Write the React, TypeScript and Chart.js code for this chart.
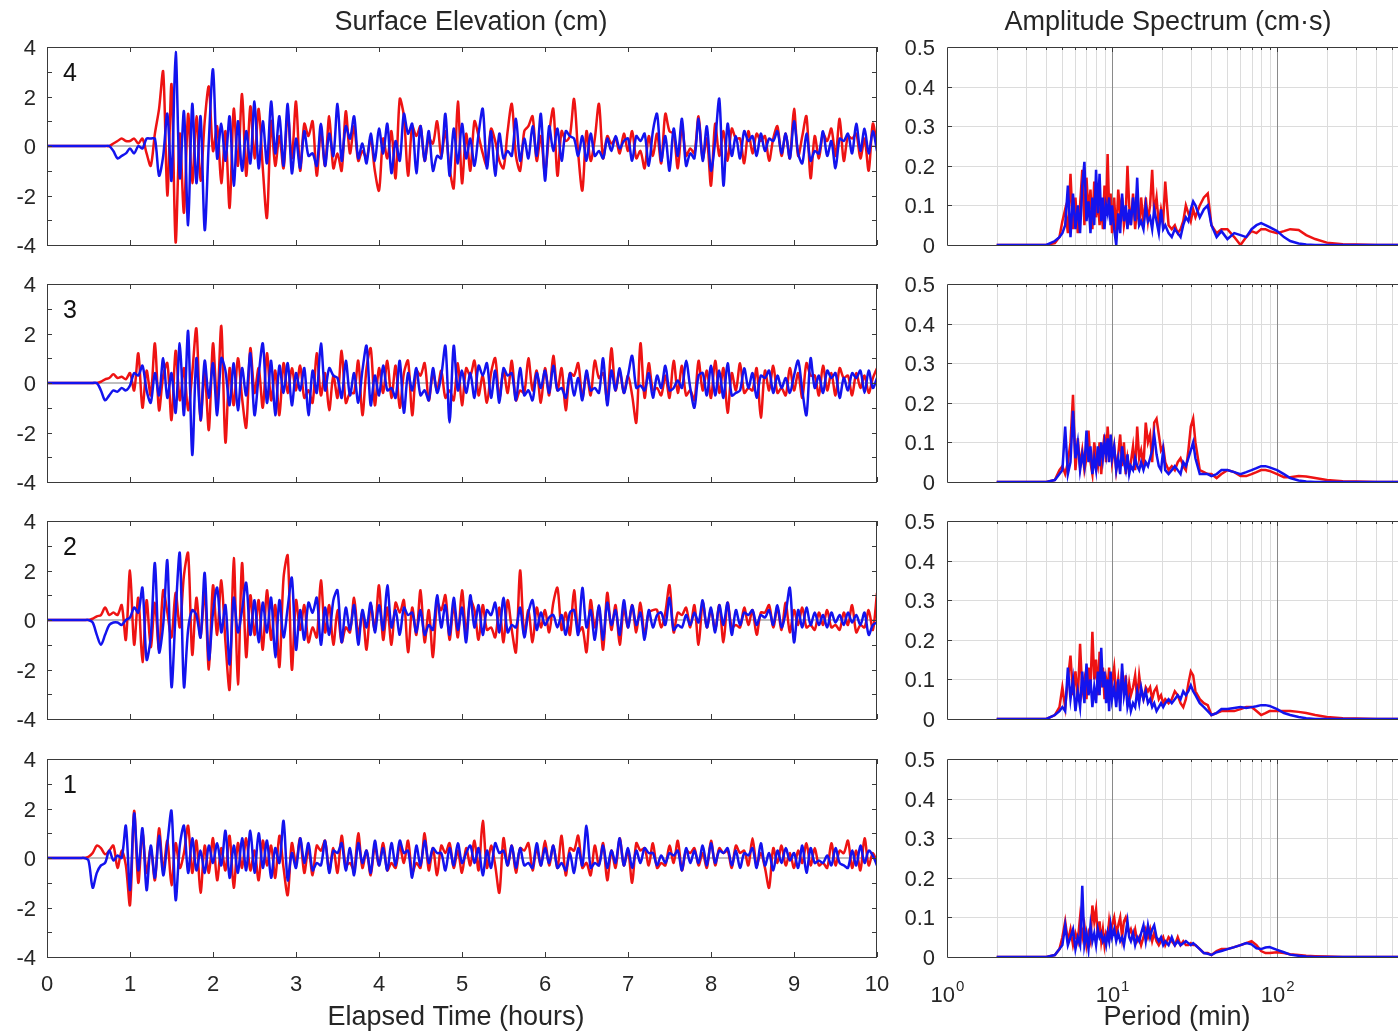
import React, { useEffect, useRef } from "react";
import { Chart, registerables } from "chart.js";

Chart.register(...registerables);

// ---------------- data ----------------
const SAMPLE_STEP_HOURS = 0.05;

// Surface elevation (cm), gauge 4 (top panel)
const RED_4 = [
  0,0,0,0,0,0,0,0,0,0,0,0,0,0,0,0,0.1,0.2,0.3,0.2,
  0.2,0.3,0.1,0.3,-0.3,-0.8,0.5,1.5,3.0,-2.0,2.5,-3.9,0.5,-2.7,1.3,-1.5,1.2,-1.4,1.0,2.4,
  -0.2,0.8,-1.5,0.6,-2.5,1.5,-0.8,2.1,-1.2,1.6,-0.5,1.5,-0.9,-2.9,1.0,-0.8,0.4,-0.9,1.3,-0.5,
  1.8,-1.0,0.9,0.4,1.0,-1.2,0.6,-0.8,1.2,-0.9,-0.3,-1.0,1.4,-0.3,0.8,-0.6,-0.2,-0.5,0.3,-1.0,
  -1.8,0.3,-0.5,0.6,-1.3,1.9,1.2,-1.2,0.8,0.4,0.8,-0.6,0.3,0.1,1.0,-0.4,0.6,-0.9,-1.7,1.8,
  -1.5,0.5,-1.0,1.0,0.4,-0.3,-0.8,0.7,0.2,-0.6,-0.9,0.6,1.7,-0.4,-1.0,0.6,0.8,1.2,-0.6,0.4,
  -1.1,0.5,1.5,-1.2,0.6,0.2,0.4,1.9,-0.3,-1.8,0.6,-0.6,0.3,1.7,-0.5,0.4,0.1,0.3,-0.3,0.5,
  -0.2,0.6,-0.5,-0.2,-0.9,0.4,-0.4,0.5,-0.7,1.3,0.6,0.5,-0.9,0.8,-0.4,-0.1,-0.3,1.2,-0.5,0.3,
  -1.6,0.9,-0.4,0.6,-0.6,0.7,0.3,0.3,-0.7,0.6,-0.3,0.5,0.2,0.4,-0.6,0.3,0.8,-0.4,0.5,-0.5,
  1.5,-0.4,0.4,1.2,-1.3,0.4,-0.5,0.5,0.2,0.7,-0.4,1.1,-0.6,0.4,0.3,0.5,-0.5,0.3,-1.0,0.9,
  0.0,
];
const BLUE_4 = [
  0,0,0,0,0,0,0,0,0,0,0,0,0,0,0,0,-0.2,-0.5,-0.4,-0.3,
  -0.1,-0.3,0,-0.1,0.3,0.3,0.3,-1.2,-0.4,1.3,-1.4,3.8,-1.3,1.4,-3.2,1.7,-1.5,1.2,-3.4,0.2,
  3.1,-0.5,0.9,-0.6,1.2,-1.6,1.0,-1.0,0.6,-0.7,1.8,-0.9,1.0,-0.7,1.8,-0.3,1.2,-0.8,1.7,-1.1,
  0.3,-0.9,0.6,-0.4,-0.3,-0.8,0.9,-0.8,0.5,-0.4,1.7,-0.6,0.8,0.3,1.2,-0.5,0.1,-0.7,0.5,-0.6,
  0.7,-0.3,0.9,-1.1,0.2,-0.6,1.3,0.5,0.9,-1.1,0.8,-0.6,0.6,-1.0,-0.4,-0.5,1.3,-1.2,0.7,-0.7,
  0.9,-0.5,0.3,-0.8,0.5,1.5,-0.9,0.6,-1.2,0.5,-0.5,-0.2,-0.4,1.1,-0.6,0.3,-0.5,0.8,-0.4,1.3,
  -1.4,0.8,-0.2,0.7,-0.6,0.6,0.4,0.3,-0.4,0.4,-0.6,0.5,-0.4,-0.2,-0.5,0.3,-0.2,0.4,-0.1,0.2,
  0.3,-0.6,0.4,0.2,0.5,-0.8,0.6,1.3,-0.6,0.4,-1.0,0.7,-0.4,1.1,-0.8,-0.3,-0.5,1.1,-0.6,0.8,
  -1.0,0.2,1.9,-1.6,0.9,-0.4,0.4,-0.5,0.6,0.2,0.4,-0.4,0.5,-0.2,0.3,0.2,0.6,-0.3,0.5,-0.5,
  1.0,-0.3,-0.7,0.5,-0.6,-0.2,-0.3,0.6,-0.4,0.2,-0.9,0.3,0.2,0.5,-0.3,0.9,-0.2,0.7,-0.3,0.6,
  -0.2,
];

// gauge 3
const RED_3 = [
  0,0,0,0,0,0,0,0,0,0,0,0,0,0.05,0.15,0.2,0.35,0.2,0.25,0.15,
  0.4,-0.3,1.2,-1.0,0.5,-0.5,1.6,-1.1,0.3,0.8,-1.5,1.3,-0.7,0.6,-1.1,0.4,2.2,-1.5,0.4,-1.9,
  1.6,-0.8,2.3,-2.4,0.6,-0.9,1.0,-0.6,-1.8,1.4,-0.4,0.6,-1.0,1.2,-0.7,0.5,-1.3,0.8,-0.4,0.6,
  -0.3,0.7,-0.6,-0.3,-0.8,1.2,-0.5,0.4,-1.1,0.3,-0.6,1.3,-0.8,-0.4,-0.4,0.9,-1.3,0.6,1.4,-0.9,
  0.6,-0.4,0.9,-0.6,0.7,-1.0,0.4,0.9,-1.3,0.5,0.3,0.8,-0.7,0.4,-0.3,0.5,-0.6,-0.3,-0.7,0.8,
  -0.9,0.6,0.3,0.9,-0.5,0.3,-0.8,0.4,1.0,-0.6,0.5,-0.4,0.9,-0.7,-0.3,-0.4,1.0,-0.3,0.5,-0.8,
  0.6,-0.5,1.1,-0.3,0.6,-1.1,0.4,0.3,0.8,-0.6,0.4,-0.5,0.9,0.2,0.4,-0.7,1.4,-0.3,0.5,-0.4,
  0.3,-0.5,-1.6,1.6,-0.6,0.8,-0.3,-0.2,-0.5,0.3,-0.6,0.9,-0.4,0.7,-0.5,-0.3,-0.7,0.9,-0.3,0.5,
  -0.6,0.9,-0.4,0.6,-1.2,0.4,-0.3,0.8,-0.4,-0.2,-0.3,0.6,-1.4,0.5,-0.3,0.7,-0.4,-0.2,-0.5,0.6,
  -0.3,0.4,-0.6,0.8,0.3,0.3,-0.5,0.7,-0.3,0.4,-0.5,0.6,0.2,0.3,-0.5,0.4,-0.2,0.3,-0.4,0.2,
  0.6,
];
const BLUE_3 = [
  0,0,0,0,0,0,0,0,0,0,0,0,0,-0.3,-0.7,-0.5,-0.3,-0.35,-0.2,-0.3,
  -0.1,0.4,0.3,0.7,-0.3,-0.8,0.4,-0.5,1.0,-0.6,0.4,-1.2,1.6,-1.3,2.1,-2.9,1.0,-1.5,0.9,-0.6,
  0.8,-1.3,1.0,0.5,-0.9,0.8,-1.1,0.6,-0.5,1.2,-1.3,0.3,1.6,-0.8,0.9,-1.3,0.7,-0.4,0.8,-0.9,
  0.4,-0.3,0.6,-1.3,0.5,-0.4,1.6,-0.3,0.6,0.3,0.2,-0.6,0.9,-0.5,0.4,-0.8,0.5,1.5,-0.9,0.3,
  -0.5,0.7,-0.3,-0.2,-0.6,0.9,-1.2,0.4,-0.3,0.6,-0.5,-0.3,-0.7,0.6,-0.4,0.3,1.5,-1.6,1.5,-0.3,
  0.5,-0.4,0.4,-0.6,0.7,0.3,0.8,-0.6,0.5,-0.8,0.6,0.3,0.4,-0.7,0.6,-0.5,-0.3,-0.7,0.4,-0.2,
  0.5,-0.4,0.7,-0.3,-0.2,-0.6,0.4,-0.5,0.2,-0.7,0.5,-0.3,-0.2,-0.4,1.0,-0.9,0.5,-0.3,0.6,-0.4,
  0.3,1.1,-0.2,-0.1,-0.3,0.4,-0.6,0.3,-0.2,0.7,-0.3,-0.2,0.1,-0.2,0.9,-0.2,-1.0,0.3,0.4,-0.5,
  0.7,-0.5,0.5,-0.6,0.8,-0.5,-0.4,-0.3,0.6,-0.2,0.4,-0.6,0.3,0.2,0.5,-0.4,0.3,-0.2,0.2,-0.4,
  0.3,0.9,-0.3,-1.3,1.0,-0.2,0.3,-0.4,0.5,0.2,0.4,-0.6,0.2,-0.3,0.4,0.2,0.5,-0.4,0.5,-0.2,
  0.2,
];

// gauge 2
const RED_2 = [
  0,0,0,0,0,0,0,0,0,0,0,0.05,0.15,0.2,0.5,0.2,0.3,0.2,0.6,-0.8,
  2.0,-1.0,0.9,-1.7,0.8,-1.1,0.7,-1.2,1.2,0.3,-0.7,1.1,-0.3,1.8,2.7,-1.4,0.9,-0.7,1.2,-2.0,
  1.4,-0.6,1.6,-0.9,-2.8,2.5,-2.6,2.3,-1.5,1.0,-0.6,0.8,-1.2,1.2,-0.8,0.6,-1.9,1.7,2.6,-2.0,
  0.8,-0.4,0.6,-0.9,-0.3,-0.7,1.6,-0.5,0.6,-1.0,0.4,-0.9,-0.3,-0.5,0.9,-0.6,0.3,-1.2,0.6,-0.4,
  1.4,-0.8,0.5,-1.0,0.7,0.3,0.8,-1.3,0.5,-0.6,1.2,-0.9,0.4,-1.5,0.7,0.4,1.0,-0.8,0.6,-0.7,
  1.2,-0.5,0.8,0.4,-0.8,0.6,-0.4,-0.3,-0.7,0.5,-0.9,0.8,-0.4,-1.3,2.0,-0.6,0.4,-0.9,0.5,-0.3,
  0.4,-0.5,0.7,1.3,-0.4,0.3,-0.6,1.2,-0.5,-0.3,-1.3,0.8,-0.3,0.5,-1.2,1.1,-0.4,0.6,-1.0,0.5,
  -0.3,0.6,-0.5,0.7,-0.6,0.3,0.4,0.4,-0.3,0.3,1.4,-0.5,0.3,0.2,0.5,-0.3,0.6,-1.0,0.7,-0.3,
  0.4,-0.4,0.6,-0.9,0.7,-0.3,-0.2,-0.3,0.5,-0.2,0.4,-0.6,0.3,0.3,0.6,-0.3,0.5,-0.4,0.7,-0.5,
  0.4,-0.2,0.5,-0.3,-0.2,-0.4,0.3,-0.2,0.4,-0.3,-0.2,-0.4,0.3,-0.2,0.6,-0.5,-0.2,-0.3,0.4,-0.4,
  1.1,
];
const BLUE_2 = [
  0,0,0,0,0,0,0,0,0,0,0,-0.1,-0.6,-1.0,-0.6,-0.2,-0.1,-0.1,-0.2,0.0,
  0.1,0.5,0.3,1.3,-1.6,-0.7,2.3,-1.3,-0.2,2.4,-2.7,0.3,2.7,-2.7,-0.4,0.4,0.2,-0.7,1.9,-1.6,
  0.3,1.3,-0.5,0.6,-1.8,0.9,-0.5,0.4,1.5,-0.6,0.8,-0.9,0.7,-0.5,0.9,-1.5,0.8,-0.7,0.5,1.7,
  -1.2,0.4,-0.8,0.7,0.3,0.9,-1.0,0.5,-0.6,0.8,1.2,-0.9,0.5,-0.4,0.6,-1.0,0.4,-0.3,0.7,-0.5,
  0.6,-0.4,1.4,-0.3,0.4,-0.6,0.5,0.2,0.3,-0.5,0.4,-0.6,-0.2,-0.4,1.0,-0.3,0.6,-0.6,0.9,-0.4,
  0.5,-0.9,1.0,-0.3,0.6,-0.6,0.4,0.2,0.7,-0.5,0.9,-0.5,-0.2,-0.3,0.5,-0.7,0.3,0.8,-0.4,0.3,
  -0.2,0.1,0.2,-0.3,0.2,-0.6,0.3,0.4,-0.6,1.3,-0.3,0.4,-0.8,0.6,-0.8,0.7,-0.2,0.4,-0.6,0.8,
  -0.3,0.6,-0.2,0.3,-0.8,0.4,-0.3,0.2,0.3,-0.2,0.9,-0.4,-0.2,-0.3,0.2,-0.2,0.3,-0.1,0.8,-0.3,
  0.5,-0.5,0.6,-0.2,0.7,-0.6,0.4,-0.2,0.3,0.2,0.4,-0.2,0.2,0.1,0.4,-0.2,0.6,-0.3,0.3,1.3,
  -0.9,0.4,-0.3,0.5,-0.2,0.3,-0.2,0.2,-0.3,0.3,-0.1,0.2,-0.2,0.3,-0.1,0.2,-0.2,0.3,-0.6,-0.2,
  -0.1,
];

// gauge 1 (bottom panel)
const RED_1 = [
  0,0,0,0,0,0,0,0,0,0,0.05,0.2,0.5,0.4,0.15,0.3,0.5,-0.4,0.3,-0.3,
  -1.9,1.9,-1.0,1.0,-0.6,0.4,-0.9,1.2,-0.5,0.7,-1.1,0.6,-0.4,0.2,1.3,-0.6,0.7,-1.4,0.5,-0.6,
  0.8,-0.9,0.4,-0.5,0.9,-1.2,0.6,-0.4,0.8,-0.5,0.3,-0.9,0.7,-0.3,0.5,-0.8,0.9,-0.4,-1.5,0.6,
  -0.2,0.8,-0.6,0.4,-0.7,0.5,0.3,0.7,-0.5,0.4,-0.6,0.9,-0.3,-0.2,-0.5,1.0,-0.4,0.3,-0.7,0.5,
  -0.3,0.6,-0.5,-0.2,-0.4,0.5,-0.2,0.7,-0.6,-0.2,-0.4,1.0,-0.5,0.4,-0.7,0.5,0.2,0.6,-0.4,0.3,
  -0.6,0.4,-0.3,0.7,-0.5,1.5,-0.4,0.5,-0.3,-1.4,0.8,-0.3,0.5,-0.6,0.4,0.3,0.6,-0.5,0.4,-0.3,
  0.7,-0.3,0.5,-0.4,0.9,-0.7,0.4,0.3,0.9,-0.4,-0.2,-0.7,0.5,-0.3,0.6,-0.9,0.3,-0.4,0.8,-0.3,
  0.3,-1.0,0.6,0.3,0.4,-0.3,0.6,-0.4,-0.2,-0.3,0.5,-0.2,0.7,-0.5,0.3,0.2,0.4,-0.3,0.2,-0.4,
  0.7,-0.3,0.4,0.2,0.3,-0.4,0.5,0.2,0.3,-0.3,0.8,-0.3,0.2,-0.4,-1.2,0.4,-0.2,0.5,-0.3,0.2,
  -0.4,0.3,-0.2,0.6,-0.3,0.4,-0.3,-0.2,-0.4,0.6,-0.3,0.3,0.2,0.7,-0.4,0.3,-0.5,0.8,-0.3,0.2,
  -0.2,
];
const BLUE_1 = [
  0,0,0,0,0,0,0,0,0,0,-0.1,-1.2,-0.6,-0.3,-0.2,0.3,-0.1,0.1,0.0,1.3,
  -1.3,1.8,-0.5,1.2,-1.3,0.5,-0.8,0.9,-0.7,0.6,1.9,-1.7,0.5,1.3,-0.6,0.8,-0.5,0.3,-0.6,0.5,
  -0.2,0.6,-0.3,1.1,-0.8,0.5,-0.6,0.8,-0.5,1.1,-0.6,1.0,-0.4,0.7,-0.8,0.4,-0.2,1.5,-0.9,0.2,
  -0.4,0.8,-0.2,0.6,-0.5,-0.2,-0.3,0.7,-0.6,0.3,0.2,0.6,-0.5,0.4,-0.7,0.6,-0.2,0.3,-0.6,0.7,
  -0.3,0.4,-0.5,0.6,-0.3,0.7,0.2,0.3,-0.8,0.5,-0.3,0.7,-0.2,0.4,0.2,0.2,-0.5,0.4,-0.3,0.6,
  -0.2,0.2,0.5,-0.2,0.4,-0.7,0.3,-0.4,0.6,0.2,0.3,-0.3,0.5,-0.4,0.4,-0.3,-0.2,-0.4,0.6,-0.3,
  0.4,-0.2,0.5,-0.4,-0.2,-0.5,0.2,-0.6,0.4,-0.3,1.3,-0.4,-0.2,-0.3,0.5,-0.4,0.3,-0.2,0.8,-0.3,
  0.4,-0.4,0.3,-0.2,0.4,0.2,0.2,-0.3,0.1,-0.2,0.2,0.1,0.3,-0.5,0.4,-0.2,0.3,-0.2,0.5,-0.3,
  0.6,-0.2,0.3,0.2,0.4,-0.3,0.3,-0.4,0.2,0.1,0.4,-0.4,0.6,-0.3,0.2,-0.5,0.3,-0.2,0.4,-0.1,
  0.2,-0.4,0.5,-0.6,0.4,-0.2,-0.1,-0.2,0.1,-0.3,0.4,-0.2,-0.3,-0.4,0.3,-0.3,0.5,-0.2,0.3,0.1,
  -0.3,
];

// Amplitude spectra: period (min) and amplitude (cm·s)
const PERIOD_MIN = [
  2,3,4,4.5,4.8,5.0,5.2,5.4,5.6,5.8,
  6.0,6.2,6.4,6.6,6.8,7.0,7.2,7.4,7.6,7.8,
  8.0,8.2,8.4,8.6,8.8,9.0,9.2,9.4,9.6,9.8,
  10.0,10.3,10.6,10.9,11.2,11.5,11.8,12.1,12.4,12.7,
  13.0,13.4,13.8,14.2,14.6,15.0,15.5,16.0,16.5,17.0,
  17.5,18.0,18.6,19.2,19.8,20.4,21,22,23,24,
  25,26,27,28,29,30,31,32,34,36,
  38,40,43,46,50,55,60,65,70,75,
  80,85,90,100,110,120,135,150,170,200,
  250,300,400,540,
];
const SPEC_RED_4 = [
  0,0,0,0.005,0.02,0.06,0.09,0.03,0.18,0.04,
  0.12,0.03,0.1,0.19,0.05,0.17,0.08,0.14,0.04,0.16,
  0.07,0.12,0.05,0.1,0.04,0.15,0.08,0.23,0.09,0.13,
  0.03,0.12,0.02,0.14,0.08,0.12,0.05,0.08,0.2,0.1,
  0.05,0.13,0.04,0.1,0.05,0.12,0.05,0.12,0.06,0.1,
  0.19,0.08,0.12,0.05,0.09,0.06,0.16,0.05,0.04,0.05,
  0.03,0.04,0.06,0.1,0.08,0.06,0.09,0.07,0.1,0.12,
  0.13,0.05,0.03,0.04,0.04,0.02,0.0,0.02,0.035,0.03,
  0.04,0.04,0.035,0.03,0.035,0.04,0.038,0.025,0.015,0.006,
  0.002,0.001,0,0,
];
const SPEC_BLUE_4 = [
  0,0,0,0.01,0.02,0.03,0.05,0.15,0.02,0.13,
  0.04,0.1,0.03,0.15,0.21,0.06,0.11,0.03,0.12,0.05,
  0.19,0.08,0.18,0.06,0.12,0.04,0.1,0.08,0.12,0.05,
  0.1,0.04,0.0,0.08,0.03,0.13,0.06,0.1,0.04,0.09,
  0.05,0.12,0.06,0.17,0.05,0.06,0.04,0.1,0.06,0.07,
  0.04,0.09,0.06,0.03,0.09,0.04,0.05,0.03,0.02,0.04,
  0.03,0.02,0.05,0.07,0.06,0.09,0.11,0.1,0.07,0.09,
  0.1,0.05,0.02,0.035,0.015,0.03,0.025,0.02,0.04,0.05,
  0.055,0.05,0.045,0.035,0.02,0.01,0.004,0.001,0,0,
  0,0,0,0,
];
const SPEC_RED_3 = [
  0,0,0,0.005,0.03,0.04,0.02,0.05,0.1,0.22,
  0.03,0.11,0.04,0.08,0.03,0.06,0.13,0.05,0.02,0.1,
  0.06,0.04,0.1,0.02,0.08,0.12,0.05,0.14,0.08,0.1,
  0.05,0.09,0.03,0.07,0.12,0.04,0.1,0.02,0.06,0.03,
  0.05,0.09,0.03,0.14,0.06,0.08,0.04,0.15,0.1,0.12,
  0.05,0.15,0.16,0.12,0.08,0.09,0.05,0.03,0.04,0.03,
  0.05,0.06,0.04,0.03,0.08,0.14,0.16,0.1,0.03,0.025,
  0.02,0.02,0.01,0.02,0.03,0.025,0.015,0.015,0.02,0.025,
  0.03,0.03,0.028,0.02,0.012,0.012,0.015,0.014,0.01,0.005,
  0.002,0.001,0,0,
];
const SPEC_BLUE_3 = [
  0,0,0,0.005,0.02,0.03,0.14,0.02,0.05,0.18,
  0.06,0.1,0.03,0.07,0.04,0.13,0.05,0.09,0.02,0.06,
  0.03,0.09,0.04,0.1,0.06,0.1,0.07,0.11,0.05,0.12,
  0.06,0.09,0.03,0.06,0.02,0.09,0.05,0.03,0.07,0.02,
  0.04,0.03,0.06,0.04,0.03,0.05,0.03,0.05,0.04,0.06,
  0.08,0.12,0.07,0.04,0.03,0.08,0.03,0.02,0.03,0.04,
  0.03,0.02,0.05,0.04,0.06,0.08,0.1,0.06,0.02,0.02,
  0.02,0.015,0.02,0.03,0.03,0.025,0.02,0.025,0.03,0.035,
  0.04,0.04,0.037,0.03,0.02,0.01,0.004,0.001,0,0,
  0,0,0,0,
];
const SPEC_RED_2 = [
  0,0,0,0.01,0.03,0.08,0.03,0.1,0.16,0.06,
  0.12,0.05,0.19,0.07,0.1,0.05,0.13,0.08,0.22,0.1,
  0.15,0.06,0.17,0.08,0.13,0.05,0.1,0.07,0.13,0.05,
  0.09,0.13,0.06,0.1,0.04,0.12,0.07,0.11,0.05,0.09,
  0.06,0.08,0.11,0.05,0.11,0.07,0.05,0.08,0.07,0.08,
  0.05,0.07,0.08,0.05,0.06,0.04,0.05,0.04,0.05,0.07,
  0.06,0.04,0.03,0.05,0.09,0.12,0.11,0.07,0.05,0.04,
  0.035,0.01,0.015,0.02,0.02,0.02,0.025,0.03,0.03,0.02,
  0.01,0.015,0.02,0.02,0.02,0.02,0.018,0.015,0.01,0.005,
  0.002,0.001,0,0,
];
const SPEC_BLUE_2 = [
  0,0,0,0.01,0.02,0.03,0.02,0.13,0.05,0.1,
  0.02,0.07,0.03,0.12,0.04,0.14,0.06,0.1,0.03,0.08,
  0.04,0.12,0.06,0.18,0.08,0.12,0.04,0.1,0.02,0.12,
  0.05,0.08,0.03,0.1,0.02,0.14,0.06,0.09,0.03,0.05,
  0.02,0.04,0.03,0.07,0.04,0.08,0.05,0.07,0.04,0.05,
  0.03,0.04,0.02,0.03,0.04,0.03,0.04,0.05,0.04,0.05,
  0.06,0.05,0.07,0.06,0.07,0.085,0.07,0.06,0.04,0.03,
  0.02,0.01,0.015,0.025,0.025,0.028,0.03,0.028,0.03,0.032,
  0.035,0.035,0.033,0.025,0.015,0.01,0.005,0.002,0,0,
  0,0,0,0,
];
const SPEC_RED_1 = [
  0,0,0,0.005,0.02,0.05,0.09,0.04,0.07,0.03,
  0.06,0.04,0.1,0.05,0.08,0.03,0.06,0.04,0.13,0.09,
  0.12,0.05,0.09,0.04,0.07,0.03,0.06,0.05,0.09,0.06,
  0.08,0.1,0.06,0.08,0.1,0.05,0.09,0.1,0.08,0.06,
  0.07,0.05,0.07,0.04,0.05,0.03,0.05,0.07,0.05,0.07,
  0.04,0.06,0.04,0.03,0.04,0.05,0.03,0.05,0.04,0.03,
  0.05,0.03,0.04,0.03,0.03,0.035,0.03,0.03,0.02,0.01,
  0.01,0.005,0.015,0.02,0.02,0.025,0.03,0.035,0.04,0.03,
  0.015,0.01,0.01,0.012,0.01,0.007,0.005,0.003,0.002,0.001,
  0,0,0,0,
];
const SPEC_BLUE_1 = [
  0,0,0,0.005,0.02,0.03,0.08,0.03,0.05,0.07,
  0.02,0.05,0.03,0.18,0.03,0.06,0.02,0.08,0.04,0.06,
  0.03,0.07,0.05,0.06,0.04,0.05,0.03,0.06,0.04,0.08,
  0.05,0.07,0.04,0.06,0.04,0.05,0.03,0.06,0.09,0.05,
  0.04,0.06,0.03,0.05,0.04,0.06,0.08,0.04,0.08,0.05,
  0.07,0.08,0.05,0.04,0.05,0.03,0.04,0.03,0.05,0.03,
  0.04,0.03,0.035,0.04,0.035,0.03,0.035,0.03,0.02,0.01,
  0.008,0.005,0.012,0.015,0.02,0.025,0.03,0.035,0.032,0.022,
  0.02,0.024,0.025,0.018,0.012,0.006,0.003,0.001,0,0,
  0,0,0,0,
];

const GAUGE_LABELS = ["4", "3", "2", "1"];
const RED_SERIES = [RED_4, RED_3, RED_2, RED_1];
const BLUE_SERIES = [BLUE_4, BLUE_3, BLUE_2, BLUE_1];
const SPEC_RED = [SPEC_RED_4, SPEC_RED_3, SPEC_RED_2, SPEC_RED_1];
const SPEC_BLUE = [SPEC_BLUE_4, SPEC_BLUE_3, SPEC_BLUE_2, SPEC_BLUE_1];

const HOUR_TICKS = [0, 1, 2, 3, 4, 5, 6, 7, 8, 9, 10];
const ELEV_MINOR_TICKS = [-3, -2, -1, 0, 1, 2, 3];
const AMP_GRID = [0.1, 0.2, 0.3, 0.4];
const PERIOD_MINOR_GRID = [2, 3, 4, 5, 6, 7, 8, 9, 20, 30, 40, 50, 60, 70, 80, 90, 200, 300, 400, 500];
const PERIOD_MAJOR_GRID = [10, 100];
const PERIOD_DECADES = [1, 10, 100];

// ---------------- layout / style ----------------
const FONT = '"Liberation Sans", Arial, Helvetica, sans-serif';
const TEXT = "#262626";
const AXIS = "#3a3a3a";
const RED = "#ee1313";
const BLUE = "#1313ee";
const ROW_TOPS = [47, 284, 521, 759];
const PLOT_H = 198;
const W = 1398;
const H = 1034;
const LEFT_CANVAS_W = 915;
const LEFT_PLOT_RIGHT = 877;

function rowGeom(row: number) {
  const topPad = row === 0 ? 47 : 30;
  const bottomSpace = row === 3 ? H - (ROW_TOPS[3] + PLOT_H) : 30;
  return {
    top: ROW_TOPS[row] - topPad,
    height: topPad + PLOT_H + bottomSpace,
    topPad,
    bottomSpace,
  };
}

type TextItem = { text: string; x: number; y: number; size: number };

function textPlugin(items: TextItem[]) {
  return {
    id: "texts",
    afterDraw(chart: any) {
      const ctx = chart.ctx;
      ctx.save();
      ctx.fillStyle = TEXT;
      ctx.textAlign = "center";
      ctx.textBaseline = "middle";
      for (const it of items) {
        ctx.font = `${it.size}px ${FONT}`;
        ctx.fillText(it.text, it.x, it.y);
      }
      ctx.restore();
    },
  };
}

function leftDecor(label: string) {
  return {
    id: "leftDecor",
    afterDatasetsDraw(chart: any) {
      const { ctx, chartArea: a, scales } = chart;
      const xs = scales.x;
      const ys = scales.y;
      ctx.save();
      ctx.strokeStyle = AXIS;
      ctx.lineWidth = 1;
      ctx.beginPath();
      for (const h of HOUR_TICKS) {
        const px = Math.round(xs.getPixelForValue(h)) + 0.5;
        ctx.moveTo(px, a.bottom);
        ctx.lineTo(px, a.bottom - 5);
        ctx.moveTo(px, a.top);
        ctx.lineTo(px, a.top + 5);
      }
      for (const v of ELEV_MINOR_TICKS) {
        const py = Math.round(ys.getPixelForValue(v)) + 0.5;
        ctx.moveTo(a.left, py);
        ctx.lineTo(a.left + 5, py);
        ctx.moveTo(a.right, py);
        ctx.lineTo(a.right - 5, py);
      }
      ctx.stroke();
      ctx.strokeRect(Math.round(a.left) + 0.5, Math.round(a.top) + 0.5, Math.round(a.width) - 1, Math.round(a.height));
      ctx.fillStyle = "#111";
      ctx.font = `25px ${FONT}`;
      ctx.textAlign = "left";
      ctx.textBaseline = "middle";
      ctx.fillText(label, a.left + 16, a.top + 27);
      ctx.restore();
    },
  };
}

const rightDecor = {
  id: "rightDecor",
  beforeDatasetsDraw(chart: any) {
    const { ctx, chartArea: a, scales } = chart;
    const xs = scales.x;
    const ys = scales.y;
    ctx.save();
    ctx.lineWidth = 1;
    ctx.strokeStyle = "#dcdcdc";
    ctx.beginPath();
    for (const v of AMP_GRID) {
      const py = Math.round(ys.getPixelForValue(v)) + 0.5;
      ctx.moveTo(a.left, py);
      ctx.lineTo(a.right, py);
    }
    for (const p of PERIOD_MINOR_GRID) {
      const px = Math.round(xs.getPixelForValue(p)) + 0.5;
      ctx.moveTo(px, a.top);
      ctx.lineTo(px, a.bottom);
    }
    ctx.stroke();
    ctx.strokeStyle = "#8a8a8a";
    ctx.beginPath();
    for (const p of PERIOD_MAJOR_GRID) {
      const px = Math.round(xs.getPixelForValue(p)) + 0.5;
      ctx.moveTo(px, a.top);
      ctx.lineTo(px, a.bottom);
    }
    ctx.stroke();
    ctx.restore();
  },
  afterDatasetsDraw(chart: any) {
    const { ctx, chartArea: a, scales } = chart;
    const xs = scales.x;
    const ys = scales.y;
    ctx.save();
    ctx.strokeStyle = AXIS;
    ctx.lineWidth = 1;
    ctx.beginPath();
    for (const p of PERIOD_MINOR_GRID) {
      const px = Math.round(xs.getPixelForValue(p)) + 0.5;
      ctx.moveTo(px, a.top);
      ctx.lineTo(px, a.top + 3);
    }
    for (const p of PERIOD_MAJOR_GRID) {
      const px = Math.round(xs.getPixelForValue(p)) + 0.5;
      ctx.moveTo(px, a.top);
      ctx.lineTo(px, a.top + 5);
    }
    for (const v of AMP_GRID) {
      const py = Math.round(ys.getPixelForValue(v)) + 0.5;
      ctx.moveTo(a.left, py);
      ctx.lineTo(a.left + 5, py);
    }
    const l = Math.round(a.left) + 0.5;
    const t = Math.round(a.top) + 0.5;
    const b = Math.round(a.bottom) + 0.5;
    ctx.moveTo(a.right, t);
    ctx.lineTo(l, t);
    ctx.lineTo(l, b);
    ctx.lineTo(a.right, b);
    ctx.stroke();
    ctx.restore();
  },
};

function decadeLabels(baselineY: number) {
  return {
    id: "decadeLabels",
    afterDraw(chart: any) {
      const { ctx, scales } = chart;
      const xs = scales.x;
      ctx.save();
      ctx.fillStyle = TEXT;
      ctx.textBaseline = "alphabetic";
      ctx.textAlign = "left";
      PERIOD_DECADES.forEach((v, i) => {
        const px = xs.getPixelForValue(v);
        ctx.font = `22px ${FONT}`;
        const w1 = ctx.measureText("10").width;
        ctx.font = `15px ${FONT}`;
        const exp = String(i);
        const w2 = ctx.measureText(exp).width;
        const start = px - (w1 + w2) / 2;
        ctx.font = `22px ${FONT}`;
        ctx.fillText("10", start, baselineY);
        ctx.font = `15px ${FONT}`;
        ctx.fillText(exp, start + w1 + 1, baselineY - 11);
      });
      ctx.restore();
    },
  };
}

function lineSet(points: { x: number; y: number }[], color: string, width = 2.5, tension = 0) {
  return {
    data: points,
    borderColor: color,
    backgroundColor: color,
    borderWidth: width,
    pointRadius: 0,
    tension,
    fill: false,
  };
}

const toTimePoints = (vals: number[]) => vals.map((v, i) => ({ x: i * SAMPLE_STEP_HOURS, y: v }));
const toSpecPoints = (vals: number[]) => PERIOD_MIN.map((p, i) => ({ x: p, y: vals[i] }));

const tickFont = { family: FONT, size: 22 };

function leftConfig(row: number) {
  const g = rowGeom(row);
  const isBottom = row === 3;
  const texts: TextItem[] = [];
  if (row === 0) texts.push({ text: "Surface Elevation (cm)", x: 471, y: 23, size: 27 });
  if (isBottom) texts.push({ text: "Elapsed Time (hours)", x: 456, y: 1018 - g.top, size: 27 });
  return {
    type: "line",
    data: {
      datasets: [
        lineSet(toTimePoints(BLUE_SERIES[row]), BLUE, 2.5, 0.3),
        lineSet(toTimePoints(RED_SERIES[row]), RED, 2.5, 0.3),
        lineSet([{ x: 0, y: 0 }, { x: 10, y: 0 }], "#a8a8a8", 1.5),
      ],
    },
    options: {
      responsive: false,
      animation: false,
      events: [],
      layout: { padding: { top: g.topPad, left: 0, right: LEFT_CANVAS_W - LEFT_PLOT_RIGHT, bottom: 0 } },
      plugins: { legend: { display: false }, tooltip: { enabled: false }, title: { display: false } },
      scales: {
        x: {
          type: "linear",
          min: 0,
          max: 10,
          afterFit: (s: any) => { s.height = g.bottomSpace; },
          grid: { display: false, drawTicks: false },
          border: { display: false },
          ticks: { display: isBottom, stepSize: 1, padding: 15, color: TEXT, font: tickFont, maxRotation: 0, autoSkip: false },
        },
        y: {
          type: "linear",
          min: -4,
          max: 4,
          afterFit: (s: any) => { s.width = 47; },
          grid: { display: false, drawTicks: false },
          border: { display: false },
          ticks: { stepSize: 2, padding: 11, color: TEXT, font: tickFont, labelOffset: 2 },
        },
      },
    },
    plugins: [leftDecor(GAUGE_LABELS[row]), textPlugin(texts)],
  };
}

function rightConfig(row: number) {
  const g = rowGeom(row);
  const isBottom = row === 3;
  const texts: TextItem[] = [];
  if (row === 0) texts.push({ text: "Amplitude Spectrum (cm·s)", x: 1168 - 900, y: 23, size: 27 });
  if (isBottom) texts.push({ text: "Period (min)", x: 1177 - 900, y: 1018 - g.top, size: 27 });
  const plugins: any[] = [rightDecor, textPlugin(texts)];
  if (isBottom) plugins.push(decadeLabels(1002 - g.top));
  return {
    type: "line",
    data: {
      datasets: [
        lineSet(toSpecPoints(SPEC_BLUE[row]), BLUE),
        lineSet(toSpecPoints(SPEC_RED[row]), RED),
      ],
    },
    options: {
      responsive: false,
      animation: false,
      events: [],
      layout: { padding: { top: g.topPad, left: 0, right: 0, bottom: 0 } },
      plugins: { legend: { display: false }, tooltip: { enabled: false }, title: { display: false } },
      scales: {
        x: {
          type: "logarithmic",
          min: 1,
          max: 540,
          afterFit: (s: any) => { s.height = g.bottomSpace; },
          grid: { display: false, drawTicks: false },
          border: { display: false },
          ticks: { display: false },
        },
        y: {
          type: "linear",
          min: 0,
          max: 0.5,
          afterFit: (s: any) => { s.width = 47; },
          grid: { display: false, drawTicks: false },
          border: { display: false },
          ticks: {
            stepSize: 0.1,
            padding: 12,
            color: TEXT,
            font: tickFont,
            labelOffset: 2,
            callback: (v: any) => (Math.abs(v) < 1e-9 ? "0" : Number(v).toFixed(1)),
          },
        },
      },
    },
    plugins,
  };
}

type PanelProps = { left: number; top: number; width: number; height: number; make: () => any };

function Panel({ left, top, width, height, make }: PanelProps) {
  const ref = useRef<HTMLCanvasElement | null>(null);
  useEffect(() => {
    if (!ref.current) return;
    const chart = new Chart(ref.current, make());
    return () => chart.destroy();
  }, []);
  return (
    <canvas
      ref={ref}
      width={width}
      height={height}
      style={{ position: "absolute", left, top, width, height, display: "block" }}
    />
  );
}

export default function App() {
  const rows = [0, 1, 2, 3];
  return (
    <div
      style={{
        position: "fixed",
        left: 0,
        top: 0,
        width: W,
        height: H,
        background: "#ffffff",
        overflow: "hidden",
      }}
    >
      {rows.map((r) => {
        const g = rowGeom(r);
        return (
          <React.Fragment key={r}>
            <Panel left={0} top={g.top} width={LEFT_CANVAS_W} height={g.height} make={() => leftConfig(r)} />
            <Panel left={900} top={g.top} width={W - 900} height={g.height} make={() => rightConfig(r)} />
          </React.Fragment>
        );
      })}
    </div>
  );
}
